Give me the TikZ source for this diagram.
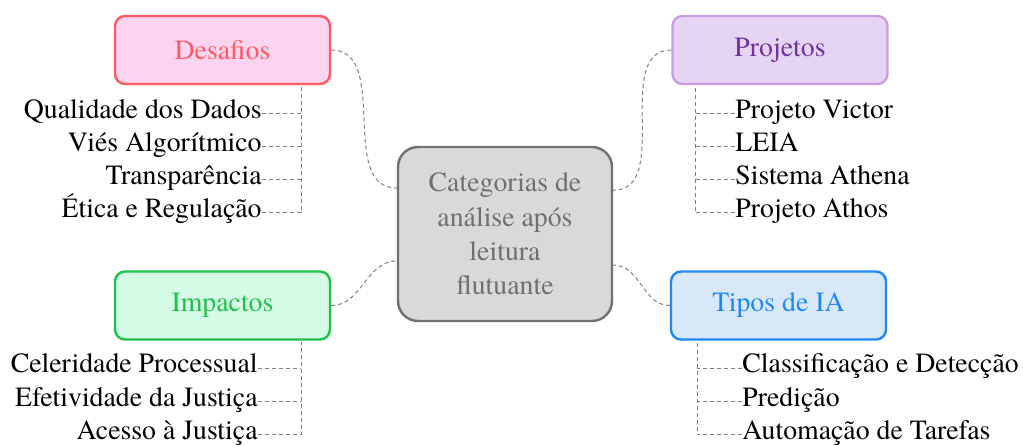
\documentclass[tikz,border=0pt]{standalone}
\usepackage{fontspec}
\setmainfont{texgyretermes}[Extension=.otf, UprightFont=*-regular]
\usetikzlibrary{positioning,calc}
\definecolor{desline}{HTML}{FF5A62}
\definecolor{desfill}{HTML}{FCD4F0}
\definecolor{proline}{HTML}{C89DE2}
\definecolor{profill}{HTML}{E6D5F2}
\definecolor{protext}{HTML}{7030A0}
\definecolor{impline}{HTML}{1CC24A}
\definecolor{impfill}{HTML}{D5FAE6}
\definecolor{tipline}{HTML}{1E88F5}
\definecolor{tipfill}{HTML}{D9E8F8}
\definecolor{ctrline}{HTML}{707070}
\definecolor{ctrfill}{HTML}{D9D9D9}
\definecolor{linkgray}{HTML}{808080}

\begin{document}
\begin{tikzpicture}[x=0.5pt,y=-0.5pt,
      every node/.style={font=\fontsize{13.9}{17.2}\selectfont},
      cat/.style={rectangle, rounded corners=5pt, line width=1.2pt,
        minimum width=107.5pt, minimum height=34pt},
      item/.style={inner sep=0pt},
      link/.style={draw=linkgray, line width=0.5pt, dash pattern=on 2pt off 1.5pt}]
      \useasboundingbox (0,0) rectangle (1023,445);
      % centre
      \node[rectangle, rounded corners=10pt, line width=1.2pt, draw=ctrline,
        fill=ctrfill, text=ctrline, minimum width=107pt, minimum height=87pt,
        align=center] (ctr) at (505,234)
        {Categorias de\\análise após\\leitura\\flutuante};
      % categories
      \node[cat, draw=desline, fill=desfill, text=desline] (des) at (222.5,50) {Desafios};
      \node[cat, draw=proline, fill=profill, text=protext] (pro) at (780,50) {Projetos};
      \node[cat, draw=impline, fill=impfill, text=impline] (imp) at (222.5,305.5) {Impactos};
      \node[cat, draw=tipline, fill=tipfill, text=tipline] (tip) at (778.5,305.5) {Tipos de IA};
      \draw[link] (des.east) to[out=0, in=180] (ctr.157);
      \draw[link] (pro.west) to[out=180, in=0] (ctr.22);
      \draw[link] (imp.east) to[out=0, in=180] (ctr.194);
      \draw[link] (tip.west) to[out=180, in=0] (ctr.344);
      % Desafios
      \coordinate (desbot) at (301,86);
      \node[item, anchor=mid east] (d1) at (262,113.5) {Qualidade dos Dados};
      \node[item, anchor=mid east] (d2) at (262,146.5) {Viés Algorítmico};
      \node[item, anchor=mid east] (d3) at (262,179.5) {Transparência};
      \node[item, anchor=mid east] (d4) at (262,212.5) {Ética e Regulação};
      \draw[link] (d4.mid east) -| (desbot);
      \foreach \n in {d1,d2,d3} \draw[link] (\n.mid east) -- (\n.mid east -| desbot);
      % Projetos
      \coordinate (probot) at (695,86);
      \node[item, anchor=mid west] (p1) at (735,113.5) {Projeto Victor};
      \node[item, anchor=mid west] (p2) at (735,146.5) {LEIA};
      \node[item, anchor=mid west] (p3) at (735,179.5) {Sistema Athena};
      \node[item, anchor=mid west] (p4) at (735,212.5) {Projeto Athos};
      \draw[link] (p4.mid west) -| (probot);
      \foreach \n in {p1,p2,p3} \draw[link] (\n.mid west) -- (\n.mid west -| probot);
      % Impactos
      \coordinate (impbot) at (301,342);
      \node[item, anchor=mid east] (i1) at (258,368) {Celeridade Processual};
      \node[item, anchor=mid east] (i2) at (258,401.5) {Efetividade da Justiça};
      \node[item, anchor=mid east] (i3) at (258,434.5) {Acesso à Justiça};
      \draw[link] (i3.mid east) -| (impbot);
      \foreach \n in {i1,i2} \draw[link] (\n.mid east) -- (\n.mid east -| impbot);
      % Tipos de IA
      \coordinate (tipbot) at (697,342);
      \node[item, anchor=mid west] (t1) at (742,368) {Classificação e Detecção};
      \node[item, anchor=mid west] (t2) at (742,401.5) {Predição};
      \node[item, anchor=mid west] (t3) at (742,434.5) {Automação de Tarefas};
      \draw[link] (t3.mid west) -| (tipbot);
      \foreach \n in {t1,t2} \draw[link] (\n.mid west) -- (\n.mid west -| tipbot);
    \end{tikzpicture}
\end{document}
